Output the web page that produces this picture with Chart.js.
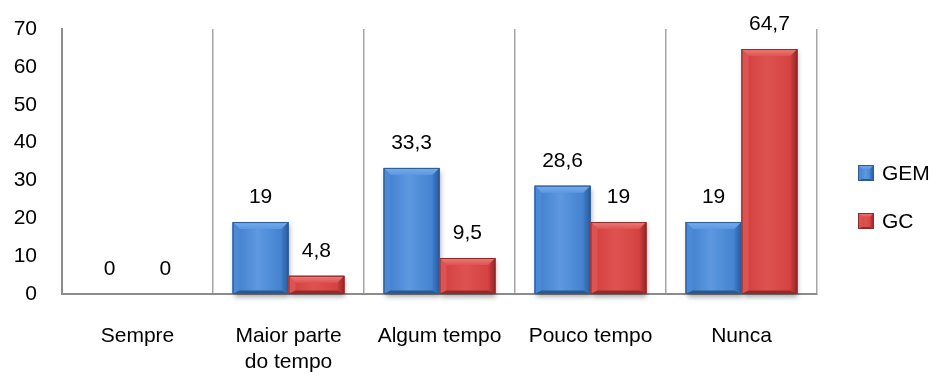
<!DOCTYPE html>
<html>
<head>
<meta charset="utf-8">
<script src="https://cdn.jsdelivr.net/npm/chart.js@4/dist/chart.umd.min.js"></script>
<style>
  html, body { margin: 0; padding: 0; background: #ffffff; }
  #wrap { width: 936px; height: 376px; position: relative; }
</style>
</head>
<body>
<div id="wrap"><canvas id="c" width="936" height="376"></canvas></div>
<script>
// Categories and series
const categories = ["Sempre", ["Maior parte", "do tempo"], "Algum tempo", "Pouco tempo", "Nunca"];
const seriesNames = ["GEM", "GC"];
const gemValues = [0, 19, 33.3, 28.6, 19];
const gcValues = [0, 4.8, 9.5, 19, 64.7];
const yTicks = [0, 10, 20, 30, 40, 50, 60, 70];

const FONT = "'Liberation Sans', Arial, sans-serif";

// Bevel palettes for each series
const palettes = [
  { body: '#3d7ccb', light: '#5d98e0', top: '#74acef', left: '#4c89d6', right: '#2b5b98', bottom: '#2a5890', line: '#2c5a92' },
  { body: '#d23e3d', light: '#dd5250', top: '#ef7e7a', left: '#db5452', right: '#8f2727', bottom: '#952a2a', line: '#8e2a2a' }
];

function bevelBox(ctx, l, t, r, b, bv, p) {
  const w = r - l;
  const g = ctx.createLinearGradient(l, 0, r, 0);
  g.addColorStop(0, p.body);
  g.addColorStop(0.45, p.light);
  g.addColorStop(1, p.body);
  ctx.fillStyle = g;
  ctx.fillRect(l, t, w, b - t);
  const bb = Math.min(bv * 0.5, (b - t) / 3);
  // top face
  const gt = ctx.createLinearGradient(0, t, 0, t + bv);
  gt.addColorStop(0, p.top);
  gt.addColorStop(1, p.light);
  ctx.fillStyle = gt;
  ctx.beginPath();
  ctx.moveTo(l, t); ctx.lineTo(r, t); ctx.lineTo(r - bv, t + bv); ctx.lineTo(l + bv, t + bv); ctx.closePath();
  ctx.fill();
  // left face
  ctx.fillStyle = p.left;
  ctx.beginPath();
  ctx.moveTo(l, t); ctx.lineTo(l + bv, t + bv); ctx.lineTo(l + bv, b - bb); ctx.lineTo(l, b); ctx.closePath();
  ctx.fill();
  // right face
  const gr = ctx.createLinearGradient(r - bv, 0, r, 0);
  gr.addColorStop(0, p.body);
  gr.addColorStop(1, p.right);
  ctx.fillStyle = gr;
  ctx.beginPath();
  ctx.moveTo(r, t); ctx.lineTo(r - bv, t + bv); ctx.lineTo(r - bv, b - bb); ctx.lineTo(r, b); ctx.closePath();
  ctx.fill();
  // bottom face
  ctx.fillStyle = p.bottom;
  ctx.beginPath();
  ctx.moveTo(l, b); ctx.lineTo(l + bv, b - bb); ctx.lineTo(r - bv, b - bb); ctx.lineTo(r, b); ctx.closePath();
  ctx.fill();
  // outline
  ctx.strokeStyle = p.line;
  ctx.lineWidth = 1;
  ctx.strokeRect(l + 0.5, t + 0.5, w - 1, b - t - 1);
}

const bevelBars = {
  id: 'bevelBars',
  beforeDatasetsDraw(chart) {
    const ctx = chart.ctx;
    ctx.save();
    chart.data.datasets.forEach((ds, i) => {
      chart.getDatasetMeta(i).data.forEach(bar => {
        const { x, y, base, width } = bar.getProps(['x', 'y', 'base', 'width'], true);
        if (base - y <= 0) return;
        ctx.shadowColor = 'rgba(0,0,0,0.35)';
        ctx.shadowBlur = 5;
        ctx.shadowOffsetY = 3;
        ctx.shadowOffsetX = 1;
        ctx.fillStyle = palettes[i].body;
        ctx.fillRect(x - width / 2, y, width, base - y);
      });
    });
    ctx.restore();
  },
  afterDatasetsDraw(chart) {
    const ctx = chart.ctx;
    ctx.save();
    chart.data.datasets.forEach((ds, i) => {
      chart.getDatasetMeta(i).data.forEach((bar, j) => {
        const { x, y, base, width } = bar.getProps(['x', 'y', 'base', 'width'], true);
        const h = base - y;
        if (h > 0) {
          const bv = Math.min(7, h / 2, width / 2);
          bevelBox(ctx, x - width / 2, y, x + width / 2, base, bv, palettes[i]);
        }
        // value label
        const v = ds.data[j];
        ctx.fillStyle = '#000000';
        ctx.font = '21px ' + FONT;
        ctx.textAlign = 'center';
        ctx.textBaseline = 'middle';
        ctx.fillText(String(v).replace('.', ','), x, y - 25);
      });
    });
    ctx.restore();
  }
};

// Legend drawn at the right of the plot
const sideLegend = {
  id: 'sideLegend',
  afterDraw(chart) {
    const ctx = chart.ctx;
    const area = chart.chartArea;
    const x0 = area.right + 41;
    const yc = [173, 221];
    ctx.save();
    chart.data.datasets.forEach((ds, i) => {
      const cy = yc[i];
      bevelBox(ctx, x0, cy - 8, x0 + 16, cy + 8, 4, palettes[i]);
      ctx.fillStyle = '#000000';
      ctx.font = '21px ' + FONT;
      ctx.textAlign = 'left';
      ctx.textBaseline = 'middle';
      ctx.fillText(ds.label, x0 + 24, cy + 1);
    });
    ctx.restore();
  }
};

new Chart(document.getElementById('c'), {
  type: 'bar',
  data: {
    labels: categories,
    datasets: [
      { label: seriesNames[0], data: gemValues, backgroundColor: palettes[0].body, borderWidth: 0 },
      { label: seriesNames[1], data: gcValues, backgroundColor: palettes[1].body, borderWidth: 0 }
    ]
  },
  options: {
    responsive: false,
    animation: false,
    devicePixelRatio: 1,
    layout: { padding: { left: 13, right: 119, top: 29, bottom: 0 } },
    plugins: { legend: { display: false }, tooltip: { enabled: false } },
    datasets: { bar: { categoryPercentage: 0.74, barPercentage: 1.0 } },
    scales: {
      x: {
        afterFit(scale) { scale.height = 82; scale.paddingLeft = 0; scale.paddingRight = 0; },
        grid: { display: true, offset: true, color: '#a6a6a6', lineWidth: 1.5, drawTicks: false },
        border: { display: true, color: '#8c8c8c', width: 2 },
        ticks: { color: '#000000', font: { family: FONT, size: 21 }, padding: 30, maxRotation: 0, autoSkip: false }
      },
      y: {
        min: 0, max: 70,
        afterFit(scale) { scale.width = 49; scale.paddingTop = 0; scale.paddingBottom = 0; },
        afterBuildTicks(scale) { scale.ticks = yTicks.map(v => ({ value: v })); },
        grid: { display: false, drawTicks: false },
        border: { display: true, color: '#8c8c8c', width: 2 },
        ticks: { color: '#000000', font: { family: FONT, size: 21 }, padding: 25 }
      }
    }
  },
  plugins: [bevelBars, sideLegend]
});
</script>
</body>
</html>
